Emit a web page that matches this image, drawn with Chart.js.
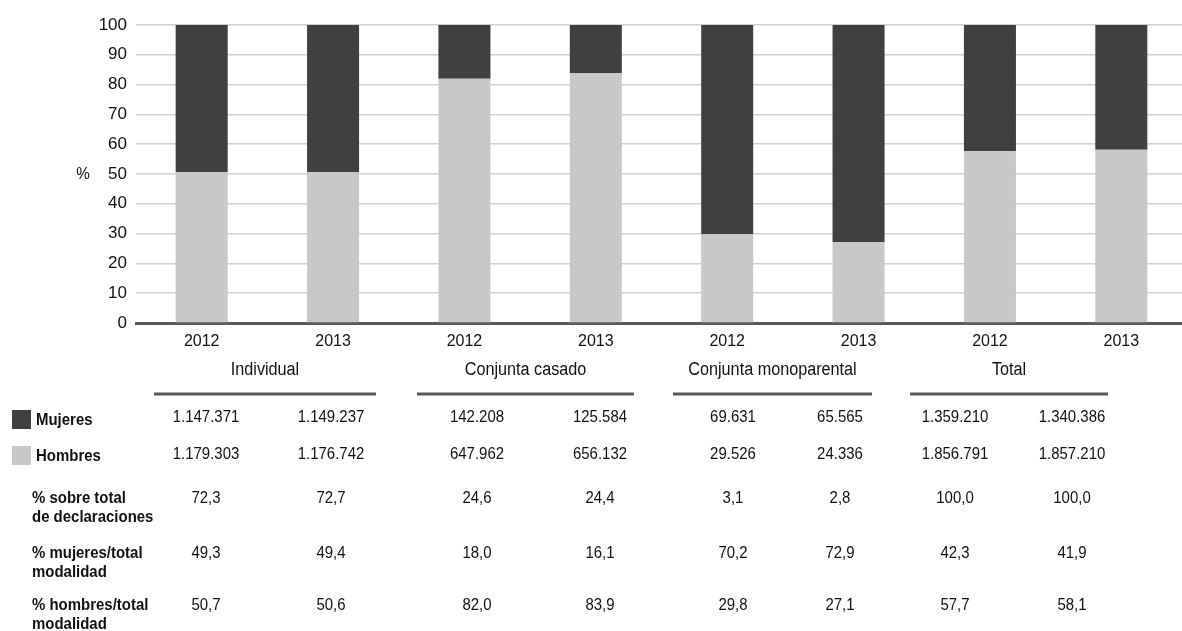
<!DOCTYPE html>
<html>
<head>
<meta charset="utf-8">
<script src="https://cdn.jsdelivr.net/npm/chart.js@4/dist/chart.umd.min.js"></script>
<style>
  html, body { margin: 0; padding: 0; overflow: hidden; background: #fff; }
  #wrap { position: relative; width: 1190px; height: 631px; }
</style>
</head>
<body>
<div id="wrap"><canvas id="c"></canvas></div>
<script>
// ---- data ----
const years = ['2012', '2013', '2012', '2013', '2012', '2013', '2012', '2013'];
const groups = ['Individual', 'Conjunta casado', 'Conjunta monoparental', 'Total'];
const seriesNames = ['Hombres', 'Mujeres'];
const hombresPct = [50.7, 50.6, 82.0, 83.9, 29.8, 27.1, 57.7, 58.1];
const mujeresPct = [49.3, 49.4, 18.0, 16.1, 70.2, 72.9, 42.3, 41.9];
const mujeresCount = ['1.147.371', '1.149.237', '142.208', '125.584', '69.631', '65.565', '1.359.210', '1.340.386'];
const hombresCount = ['1.179.303', '1.176.742', '647.962', '656.132', '29.526', '24.336', '1.856.791', '1.857.210'];
const pctTotalRow = ['72,3', '72,7', '24,6', '24,4', '3,1', '2,8', '100,0', '100,0'];
const pctMujeresRow = ['49,3', '49,4', '18,0', '16,1', '70,2', '72,9', '42,3', '41,9'];
const pctHombresRow = ['50,7', '50,6', '82,0', '83,9', '29,8', '27,1', '57,7', '58,1'];
const pctRowLabels = [['% sobre total', 'de declaraciones'], ['% mujeres/total', 'modalidad'], ['% hombres/total', 'modalidad']];
const yAxisLabel = '%';

// ---- layout (table) ----
const colX = [206, 331, 477, 600, 733, 840, 955, 1072];
const groupLines = [[154, 376], [417, 634], [673, 872], [910, 1108]];
const FONT = '"Liberation Sans", Arial, sans-serif';
const DARK = '#404040', LIGHT = '#c8c8c8';

function txt(ctx, s, x, y, size, bold, align, sx) {
  ctx.save();
  ctx.translate(x, y);
  ctx.scale(sx, 1);
  ctx.font = (bold ? 'bold ' : '') + size + 'px ' + FONT;
  ctx.textAlign = align;
  ctx.textBaseline = 'middle';
  ctx.fillStyle = '#111';
  ctx.fillText(s, 0, 0);
  ctx.restore();
}

const tablePlugin = {
  id: 'tablePlugin',
  afterDraw(chart) {
    const ctx = chart.ctx;
    const ys = chart.scales.y;
    // y axis label
    txt(ctx, yAxisLabel, 83, ys.getPixelForValue(50), 17, false, 'center', 0.9);
    // group labels and lines
    groups.forEach((g, i) => {
      const [a, b] = groupLines[i];
      txt(ctx, g, (a + b) / 2, 370, 18, false, 'center', 0.9);
      ctx.save();
      ctx.strokeStyle = '#595959';
      ctx.lineWidth = 3;
      ctx.beginPath();
      ctx.moveTo(a, 394);
      ctx.lineTo(b, 394);
      ctx.stroke();
      ctx.restore();
    });
    // legend rows
    const dsM = chart.data.datasets[1], dsH = chart.data.datasets[0];
    ctx.fillStyle = dsM.backgroundColor;
    ctx.fillRect(12, 410, 19, 19);
    ctx.fillStyle = dsH.backgroundColor;
    ctx.fillRect(12, 446, 19, 19);
    txt(ctx, dsM.label, 36, 420, 17, true, 'left', 0.88);
    txt(ctx, dsH.label, 36, 456, 17, true, 'left', 0.88);
    mujeresCount.forEach((v, i) => txt(ctx, v, colX[i], 417, 17, false, 'center', 0.88));
    hombresCount.forEach((v, i) => txt(ctx, v, colX[i], 454, 17, false, 'center', 0.88));
    // percentage rows
    const rows = [pctTotalRow, pctMujeresRow, pctHombresRow];
    const rowY = [498, 553, 605];
    rows.forEach((row, r) => {
      txt(ctx, pctRowLabels[r][0], 32, rowY[r], 17, true, 'left', 0.88);
      txt(ctx, pctRowLabels[r][1], 32, rowY[r] + 19.5, 17, true, 'left', 0.88);
      row.forEach((v, i) => txt(ctx, v, colX[i], rowY[r], 17, false, 'center', 0.88));
    });
  }
};

new Chart(document.getElementById('c'), {
  type: 'bar',
  data: {
    labels: years,
    datasets: [
      { label: seriesNames[0], data: hombresPct, backgroundColor: LIGHT, barPercentage: 0.396, categoryPercentage: 1 },
      { label: seriesNames[1], data: mujeresPct, backgroundColor: DARK, barPercentage: 0.396, categoryPercentage: 1 }
    ]
  },
  options: {
    responsive: true,
    maintainAspectRatio: false,
    animation: false,
    devicePixelRatio: 1,
    layout: { padding: { top: 25, right: 3, bottom: 0, left: 0 } },
    plugins: { legend: { display: false }, tooltip: { enabled: false }, title: { display: false } },
    scales: {
      x: {
        stacked: true,
        z: 1,
        grid: { display: false, drawTicks: false },
        border: { display: true, color: '#595959', width: 3 },
        ticks: { color: '#111', font: { family: FONT, size: 16 }, padding: 9, autoSkip: false, maxRotation: 0 },
        afterFit: (s) => { s.height = 308; }
      },
      y: {
        stacked: true,
        min: 0, max: 100,
        grid: { color: '#d0d0d0', lineWidth: 1.5, drawTicks: false },
        border: { display: false },
        ticks: { stepSize: 10, color: '#111', font: { family: FONT, size: 17 }, padding: 9 },
        afterFit: (s) => { s.width = 136; }
      }
    }
  },
  plugins: [tablePlugin]
});
</script>
</body>
</html>
